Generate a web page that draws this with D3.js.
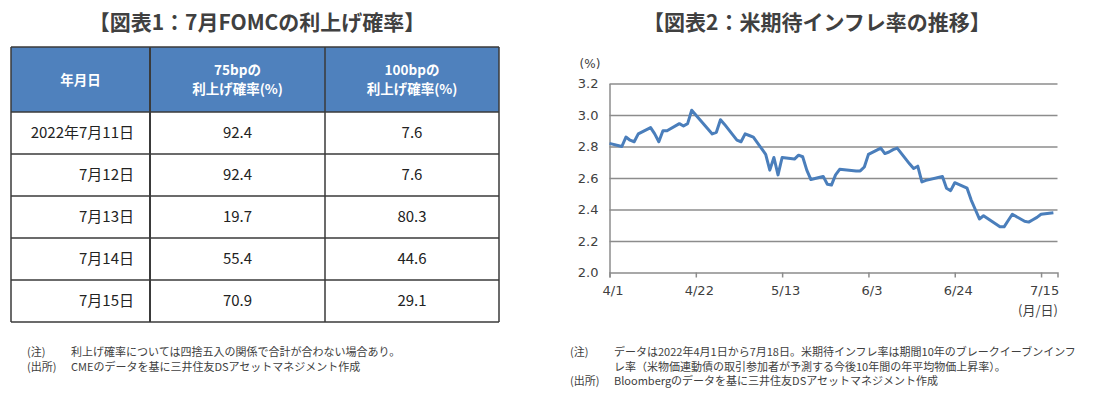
<!DOCTYPE html>
<html lang="ja">
  <head>
    <meta charset="utf-8">
    <title>FOMC / 期待インフレ率</title>
    <script src="https://d3js.org/d3.v7.min.js"></script>
    <style type="text/css">
      body {
        margin: 0;
        background-color: #FFFFFF;
      }
      svg {
        display: block;
        font-family: 'Noto Sans CJK JP', sans-serif;
      }
      .title {
        font-size: 21px;
        font-weight: bold;
        fill: #404040;
      }
      .note {
        font-size: 11px;
        fill: #404040;
      }
      .cell {
        font-size: 15px;
        fill: #222222;
      }
      .head {
        font-size: 13.5px;
        font-weight: bold;
        fill: #FFFFFF;
      }
      .axis text {
        font-family: 'DejaVu Sans', sans-serif;
        font-size: 13px;
        fill: #404040;
      }
      .grid line {
        stroke: #8C8C8C;
        stroke-width: 1.5;
      }
      .line {
        fill: none;
        stroke: #4A7EBB;
        stroke-width: 3;
        stroke-linejoin: round;
      }
    </style>
  </head>
  <body>
  <script type="text/javascript">
    // 図表1 data
    var tableDates = ["2022年7月11日", "7月12日", "7月13日", "7月14日", "7月15日"];
    var prob75 = ["92.4", "92.4", "19.7", "55.4", "70.9"];
    var prob100 = ["7.6", "7.6", "80.3", "44.6", "29.1"];
    var tableHead = [["年月日"], ["75bpの", "利上げ確率(%)"], ["100bpの", "利上げ確率(%)"]];

    // 図表2 data (breakeven 10y, %)
    var beDates = [
      "2022-04-01", "2022-04-04", "2022-04-05", "2022-04-06", "2022-04-07", "2022-04-08",
      "2022-04-11", "2022-04-12", "2022-04-13", "2022-04-14", "2022-04-15",
      "2022-04-18", "2022-04-19", "2022-04-20", "2022-04-21", "2022-04-22",
      "2022-04-25", "2022-04-26", "2022-04-27", "2022-04-28", "2022-04-29",
      "2022-05-02", "2022-05-03", "2022-05-04", "2022-05-05", "2022-05-06",
      "2022-05-09", "2022-05-10", "2022-05-11", "2022-05-12", "2022-05-13",
      "2022-05-16", "2022-05-17", "2022-05-18", "2022-05-19", "2022-05-20",
      "2022-05-23", "2022-05-24", "2022-05-25", "2022-05-26", "2022-05-27",
      "2022-05-31", "2022-06-01", "2022-06-02", "2022-06-03",
      "2022-06-06", "2022-06-07", "2022-06-08", "2022-06-09", "2022-06-10",
      "2022-06-13", "2022-06-14", "2022-06-15", "2022-06-16", "2022-06-17",
      "2022-06-21", "2022-06-22", "2022-06-23", "2022-06-24",
      "2022-06-27", "2022-06-28", "2022-06-29", "2022-06-30", "2022-07-01",
      "2022-07-05", "2022-07-06", "2022-07-07", "2022-07-08",
      "2022-07-11", "2022-07-12", "2022-07-13", "2022-07-14", "2022-07-15",
      "2022-07-18"
    ];
    var beValues = [
      2.82, 2.80, 2.86, 2.84, 2.83, 2.88,
      2.92, 2.88, 2.83, 2.90, 2.90,
      2.945, 2.93, 2.945, 3.03, 3.00,
      2.91, 2.88, 2.89, 2.97, 2.94,
      2.84, 2.83, 2.88, 2.87, 2.86,
      2.75, 2.65, 2.73, 2.62, 2.73,
      2.72, 2.745, 2.735, 2.65, 2.59,
      2.61, 2.56, 2.555, 2.62, 2.655,
      2.645, 2.645, 2.67, 2.75,
      2.79, 2.755, 2.765, 2.78, 2.79,
      2.69, 2.66, 2.675, 2.575, 2.585,
      2.61, 2.535, 2.52, 2.57,
      2.535, 2.46, 2.40, 2.34, 2.36,
      2.29, 2.29, 2.33, 2.37,
      2.325, 2.32, 2.335, 2.35, 2.37,
      2.38
    ];
    var yTicks = [2.0, 2.2, 2.4, 2.6, 2.8, 3.0, 3.2];
    var xTickDates = ["2022-04-01", "2022-04-22", "2022-05-13", "2022-06-03", "2022-06-24", "2022-07-15"];

    var noteLeft = [
      ["(注)", "利上げ確率については四捨五入の関係で合計が合わない場合あり。"],
      ["(出所)", "CMEのデータを基に三井住友DSアセットマネジメント作成"]
    ];
    var noteRight = [
      ["(注)", "データは2022年4月1日から7月18日。米期待インフレ率は期間10年のブレークイーブンインフ"],
      ["", "レ率（米物価連動債の取引参加者が予測する今後10年間の年平均物価上昇率）。"],
      ["(出所)", "Bloombergのデータを基に三井住友DSアセットマネジメント作成"]
    ];

    var parseDate = d3.timeParse("%Y-%m-%d");

    var svg = d3.select("body").append("svg")
        .attr("width", 1099)
        .attr("height", 397);

    // ---------- 図表1 : table ----------
    var colX = d3.scaleOrdinal().domain([0, 1, 2, 3]).range([11, 150, 325, 499]);
    var headTop = 47, headBottom = 112, rowH = 42;

    svg.append("text")
        .attr("class", "title")
        .attr("x", 257)
        .attr("y", 30)
        .attr("text-anchor", "middle")
        .text("【図表1：7月FOMCの利上げ確率】");

    svg.append("rect")
        .attr("x", colX(0))
        .attr("y", headTop)
        .attr("width", colX(3) - colX(0))
        .attr("height", headBottom - headTop)
        .attr("fill", "#4F81BD");

    // header labels: one text per cell, lines as tspans
    tableHead.forEach(function(lines, c) {
      var cx = (colX(c) + colX(c + 1)) / 2;
      var cy = (headTop + headBottom) / 2;
      var t = svg.append("text")
          .attr("class", "head")
          .attr("text-anchor", "middle");
      lines.forEach(function(s, k) {
        t.append("tspan")
            .attr("x", cx)
            .attr("y", cy + 5 + (k - (lines.length - 1) / 2) * 19.6)
            .text(s);
      });
    });

    tableDates.forEach(function(d, i) {
      var cy = headBottom + rowH * i + rowH / 2 + 5;
      svg.append("text")
          .attr("class", "cell")
          .attr("x", colX(1) - 16)
          .attr("y", cy)
          .attr("text-anchor", "end")
          .text(d);
      svg.append("text")
          .attr("class", "cell")
          .attr("x", (colX(1) + colX(2)) / 2)
          .attr("y", cy)
          .attr("text-anchor", "middle")
          .text(prob75[i]);
      svg.append("text")
          .attr("class", "cell")
          .attr("x", (colX(2) + colX(3)) / 2)
          .attr("y", cy)
          .attr("text-anchor", "middle")
          .text(prob100[i]);
    });

    var tableBottom = headBottom + rowH * tableDates.length;
    var border = svg.append("g")
        .attr("stroke", "#3A3A3A")
        .attr("stroke-width", 1.5);
    // horizontal rules
    [headTop, headBottom].concat(tableDates.map(function(d, i) { return headBottom + rowH * (i + 1); }))
      .forEach(function(y) {
        border.append("line")
            .attr("x1", colX(0)).attr("x2", colX(3))
            .attr("y1", y).attr("y2", y);
      });
    [0, 1, 2, 3].forEach(function(c) {
      border.append("line")
          .attr("x1", colX(c)).attr("x2", colX(c))
          .attr("y1", headTop).attr("y2", tableBottom)
          .attr("stroke-width", c == 1 ? 2 : 1.5);
    });

    // ---------- 図表2 : line chart ----------
    svg.append("text")
        .attr("class", "title")
        .attr("x", 817)
        .attr("y", 30)
        .attr("text-anchor", "middle")
        .text("【図表2：米期待インフレ率の推移】");

    var data = beDates.map(function(d, i) {
      return {date: parseDate(d), value: beValues[i]};
    });

    var xScale = d3.scaleTime()
        .domain([parseDate("2022-04-01"), parseDate("2022-07-19")])
        .range([609.5, 1057.5]);

    var yScale = d3.scaleLinear()
        .domain([2.0, 3.2])
        .range([272.5, 83.5]);

    // horizontal gridlines
    svg.append("g")
        .attr("class", "grid")
        .attr("transform", "translate(" + xScale.range()[0] + ",0)")
        .call(d3.axisLeft(yScale)
            .tickValues(yTicks.slice(1))
            .tickSize(-(xScale.range()[1] - xScale.range()[0]))
            .tickFormat(""))
        .call(function(g) { g.select(".domain").remove(); });

    // y axis
    var yAxis = svg.append("g")
        .attr("class", "axis")
        .attr("transform", "translate(" + xScale.range()[0] + ",0)")
        .call(d3.axisLeft(yScale)
            .tickValues(yTicks)
            .tickSize(0)
            .tickPadding(11)
            .tickFormat(d3.format(".1f")));
    yAxis.select(".domain").attr("stroke", "#8C8C8C").attr("stroke-width", 1.5);

    // x axis
    var xAxis = svg.append("g")
        .attr("class", "axis")
        .attr("transform", "translate(0," + yScale.range()[0] + ")")
        .call(d3.axisBottom(xScale)
            .tickValues(xTickDates.map(parseDate))
            .tickSize(5)
            .tickPadding(8)
            .tickFormat(d3.timeFormat("%-m/%-d")));
    xAxis.select(".domain").attr("stroke", "#8C8C8C").attr("stroke-width", 1.5);
    xAxis.selectAll(".tick line").attr("stroke", "#8C8C8C").attr("stroke-width", 1.5);
    xAxis.selectAll(".tick text").attr("dx", 3);

    svg.append("text")
        .attr("class", "axis-unit")
        .attr("x", 590)
        .attr("y", 68)
        .attr("text-anchor", "middle")
        .attr("font-family", "'DejaVu Sans', sans-serif")
        .attr("font-size", 12)
        .attr("fill", "#404040")
        .text("(%)");

    svg.append("text")
        .attr("x", 1058)
        .attr("y", 315)
        .attr("text-anchor", "end")
        .attr("font-size", 13)
        .attr("fill", "#404040")
        .text("(月/日)");

    var line = d3.line()
        .x(function(d) { return xScale(d.date); })
        .y(function(d) { return yScale(d.value); });

    svg.append("path")
        .datum(data)
        .attr("class", "line")
        .attr("d", line);

    // ---------- notes ----------
    function drawNotes(rows, x0, x1, y0) {
      rows.forEach(function(r, i) {
        svg.append("text")
            .attr("class", "note")
            .attr("x", x0)
            .attr("y", y0 + i * 14.5)
            .text(r[0]);
        svg.append("text")
            .attr("class", "note")
            .attr("x", x1)
            .attr("y", y0 + i * 14.5)
            .text(r[1]);
      });
    }
    drawNotes(noteLeft, 27, 71, 356);
    drawNotes(noteRight, 570, 614, 356);
  </script>
  </body>
</html>
